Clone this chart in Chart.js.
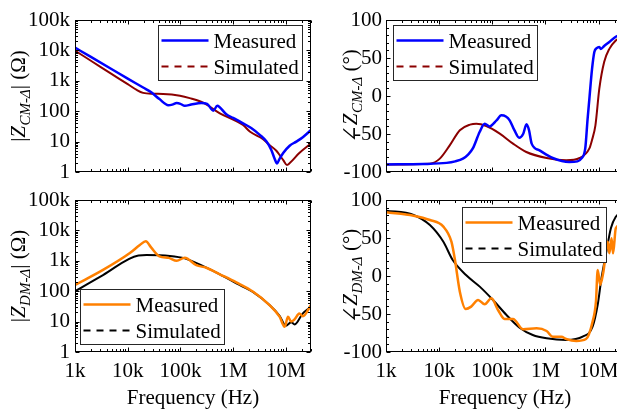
<!DOCTYPE html>
<html><head><meta charset="utf-8">
<script src="https://cdn.jsdelivr.net/npm/chart.js@4/dist/chart.umd.min.js"></script>
<style>
html,body{margin:0;padding:0;background:#fff;width:617px;height:411px;overflow:hidden;}
canvas.panel{position:absolute;left:0;top:0;}
</style></head><body>
<canvas id="cmMag" class="panel" width="640" height="411"></canvas>
<canvas id="cmPh" class="panel" width="640" height="411"></canvas>
<canvas id="dmMag" class="panel" width="640" height="411"></canvas>
<canvas id="dmPh" class="panel" width="640" height="411"></canvas>
<script>
// ---------- data ----------
const seriesLabels = ['Measured', 'Simulated'];

const cmMagMeasFreq = [1e3,2e3,5e3,1e4,2e4,2.8e4,4e4,5.9e4,7e4,8.5e4,1e5,1.21e5,1.6e5,2.5e5,3.2e5,4.2e5,5e5,5.5e5,7.4e5,1e6,1.54e6,2.2e6,3.2e6,4.3e6,5.3e6,6.1e6,6.8e6,7.5e6,8.9e6,1.18e7,1.58e7,2.1e7,3e7];
const cmMagMeas     = [12300,6100,2400,1180,590,417,250,158,165,186,175,150,165,186,175,104,150,138,79,60,40,28,16.7,10,5.3,2.8,1.9,2.6,4.2,7.3,10,14,24];
const cmMagSimFreq  = [1e3,2e3,5e3,1e4,1.48e4,1.96e4,3e4,4.7e4,9.8e4,1.5e5,2.7e5,5.6e5,1.54e6,2.1e6,3.7e6,5e6,6.6e6,7.7e6,9e6,1.05e7,1.2e7,1.8e7,3e7];
const cmMagSim      = [9800,4570,1660,776,500,400,375,370,324,270,190,85,35,21,12,7.5,5,3.5,2.4,1.7,2.0,4.2,8.7];

const cmPhMeasFreq = [1e3,5e3,1.38e4,2e4,2.8e4,3.5e4,4.3e4,5.8e4,7.2e4,8.8e4,1.2e5,1.48e5,1.8e5,2.12e5,2.6e5,3.2e5,3.8e5,4.4e5,4.9e5,5.5e5,7.7e5,1.37e6,2.8e6,4e6,4.7e6,5.6e6,6.2e6,6.7e6,7.5e6,8.3e6,9.2e6,1.03e7,1.1e7,1.27e7,1.59e7,2.1e7,3e7];
const cmPhMeas     = [-90,-89.5,-88,-86,-82.5,-77,-69,-47,-36.5,-40,-32,-25.4,-27,-32,-45,-55,-50,-37.3,-45,-62.7,-71.5,-81.6,-86.9,-86,-82.4,-69,-30,-3.4,35,57.9,63,64.5,62,65.8,71,78,82];
const cmPhSimFreq  = [1e3,6.7e3,1.03e4,1.58e4,2.45e4,3.8e4,5e4,7.7e4,1.38e5,2.45e5,4.36e5,1.05e6,2.45e6,4.4e6,6.7e6,7.5e6,8.7e6,1.03e7,1.27e7,1.59e7,2.1e7,3e7];
const cmPhSim      = [-90,-89,-82.4,-65,-45,-37.7,-36.4,-39.5,-49.5,-62.7,-73.7,-81.6,-84.6,-81.6,-69,-58,-38.6,9.7,44.7,62,73,80];

const dmMagMeasFreq = [1e3,3.4e3,1.1e4,1.7e4,2.2e4,2.8e4,4e4,6e4,8.5e4,1.21e5,2e5,3.1e5,5.6e5,1.15e6,2.4e6,4.9e6,7.6e6,9.5e6,1.1e7,1.26e7,1.47e7,1.8e7,2.1e7,3e7];
const dmMagMeas     = [160,500,1800,3300,4400,2700,1400,1250,1000,1260,720,590,360,195,96,35,14.5,6.8,14.5,10,12,18.6,15,35];
const dmMagSimFreq  = [1e3,3.4e3,1.6e4,2.27e4,6.3e4,1.21e5,2.7e5,5.6e5,1.15e6,2.4e6,4.9e6,7.6e6,1e7,1.26e7,1.47e7,2.1e7,3e7];
const dmMagSim      = [100,340,1500,1550,1450,1200,670,360,180,93,35,15.5,7.3,9.6,8.1,18.6,31];

const dmPhMeasFreq = [1e3,3.3e3,6.7e3,1.2e4,1.7e4,1.96e4,2.45e4,3.16e4,4e4,5.4e4,7.2e4,9.6e4,1.28e5,1.7e5,2.45e5,3.8e5,6.8e5,1.05e6,1.37e6,2e6,2.45e6,3.8e6,5.8e6,7.7e6,8.9e6,9.6e6,1.07e7,1.23e7,1.49e7,1.59e7,1.75e7,1.87e7,2.1e7,3e7];
const dmPhMeas     = [83.8,79.4,73.7,64.9,45.2,23.3,-20.6,-43.4,-40.3,-31.6,-37.3,-29.4,-44.7,-56.6,-56.6,-70.2,-68.9,-72.4,-79.9,-79.9,-82.9,-85.5,-82.9,-60,-33.8,7.9,-11.8,5.7,45.2,29.8,49.6,29.8,62.7,70];
const dmPhSimFreq  = [1e3,3.3e3,6.7e3,1.2e4,1.8e4,3.2e4,5.8e4,1.03e5,1.83e5,3.26e5,5.77e5,1.05e6,2.45e6,5e6,7.7e6,9.6e6,1.13e7,1.38e7,1.7e7,2.1e7,3e7];
const dmPhSim      = [86,80.3,67,45,21,1.3,-14,-31.6,-51,-68,-77.6,-82,-84.2,-79.9,-66.7,-38,-3,29.8,62.7,78,85];

// ---------- tick labels ----------
const freqTickValues  = [1e3,1e4,1e5,1e6,1e7];
const freqTickLabels  = ['1k','10k','100k','1M','10M'];
const magTickValues   = [1,10,100,1e3,1e4,1e5];
const magTickLabels   = ['1','10','100','1k','10k','100k'];
const phaseTickValues = [-100,-50,0,50,100];
const phaseTickLabels = ['-100','-50','0','50','100'];
const xTitle = 'Frequency (Hz)';

// ---------- rendering helpers ----------
const FAM = '"Liberation Serif","Times New Roman","DejaVu Serif",serif';
const CW = 640, CH = 411;

const pts = (f, v) => f.map((x, i) => ({x: x, y: v[i]}));

const frameTicks = {
  id: 'frameTicks',
  afterDatasetsDraw(chart) {
    const {ctx, chartArea: a, scales: {x, y}} = chart;
    ctx.save();
    ctx.strokeStyle = '#000';
    ctx.lineWidth = 1;
    const L = a.left + 0.5, R = a.right - 0.5, T = a.top + 0.5, B = a.bottom - 0.5;
    ctx.beginPath();
    // x ticks (log, minor 2..9)
    for (let d = 3; d <= 7; d++) {
      for (let k = 1; k <= 9; k++) {
        const v = k * Math.pow(10, d);
        if (v > x.max * 1.0001) break;
        const len = k === 1 ? 4 : 2.5;
        const p = Math.round(x.getPixelForValue(v)) + 0.5;
        ctx.moveTo(p, B); ctx.lineTo(p, B - len);
        ctx.moveTo(p, T); ctx.lineTo(p, T + len);
      }
    }
    // y ticks
    const yv = [];
    if (y.type === 'logarithmic') {
      for (let d = 0; d <= 5; d++) for (let k = 1; k <= 9; k++) {
        const v = k * Math.pow(10, d);
        if (v > y.max * 1.0001) break;
        yv.push([v, k === 1]);
      }
    } else {
      for (let v = -100; v <= 100; v += 10) yv.push([v, v % 50 === 0]);
    }
    for (const [v, major] of yv) {
      const len = major ? 4 : 2.5;
      const p = Math.round(y.getPixelForValue(v)) + 0.5;
      ctx.moveTo(L, p); ctx.lineTo(L + len, p);
      ctx.moveTo(R, p); ctx.lineTo(R - len, p);
    }
    ctx.stroke();
    ctx.strokeRect(L, T, R - L, B - T);
    ctx.restore();
  }
};

const boxLegend = {
  id: 'boxLegend',
  afterDraw(chart, args, o) {
    const {ctx} = chart;
    ctx.save();
    ctx.fillStyle = '#fff';
    ctx.fillRect(o.left, o.top, o.width, o.height);
    ctx.strokeStyle = '#262626';
    ctx.lineWidth = 1;
    ctx.strokeRect(o.left + 0.5, o.top + 0.5, o.width - 1, o.height - 1);
    chart.data.datasets.forEach((ds, i) => {
      const ly = o.top + 15.5 + 26 * i;
      ctx.beginPath();
      ctx.strokeStyle = ds.borderColor;
      ctx.lineWidth = ds.borderWidth;
      ctx.setLineDash(o.dashes[i]);
      ctx.moveTo(o.left + 3.5, ly);
      ctx.lineTo(o.left + 50.5, ly);
      ctx.stroke();
      ctx.setLineDash([]);
      ctx.fillStyle = '#000';
      ctx.font = '21px ' + FAM;
      ctx.textBaseline = 'alphabetic';
      ctx.textAlign = 'left';
      ctx.fillText(ds.label, o.left + 55.5, o.top + 23 + 26 * i);
    });
    ctx.restore();
  }
};

const yTitle = {
  id: 'yTitle',
  afterDraw(chart, args, o) {
    const {ctx, chartArea: a} = chart;
    const cy = (a.top + a.bottom) / 2;
    ctx.save();
    ctx.fillStyle = '#000';
    ctx.textBaseline = 'alphabetic';
    ctx.textAlign = 'left';
    const fontOf = p => (p.i ? 'italic ' : '') + p.s + 'px ' + FAM;
    let total = 0;
    const widths = o.parts.map(p => { ctx.font = fontOf(p); const w = ctx.measureText(p.t).width + (p.gap || 0); total += w; return w; });
    ctx.translate(o.x, cy);
    ctx.rotate(-Math.PI / 2);
    let cx = -total / 2;
    o.parts.forEach((p, i) => {
      ctx.font = fontOf(p);
      ctx.fillText(p.t, cx, p.dy || 0);
      cx += widths[i];
    });
    ctx.restore();
  }
};

function makePanel(id, cfg) {
  const a = cfg.area;
  const showX = cfg.showX;
  const xh = showX ? CH - a.bottom : 10;
  const isMag = cfg.yType === 'logarithmic';
  const yVals = isMag ? magTickValues : phaseTickValues;
  const yLabs = isMag ? magTickLabels : phaseTickLabels;
  return new Chart(document.getElementById(id), {
    type: 'line',
    data: {
      datasets: [
        {label: seriesLabels[0], data: pts(cfg.f1, cfg.v1), borderColor: cfg.c1, borderWidth: 2.5,
         pointRadius: 0, fill: false, cubicInterpolationMode: 'monotone'},
        {label: seriesLabels[1], data: pts(cfg.f2, cfg.v2), borderColor: cfg.c2, borderWidth: 2,
         pointRadius: 0, fill: false, cubicInterpolationMode: 'monotone'}
      ]
    },
    options: {
      responsive: false, animation: false, devicePixelRatio: 1, events: [],
      layout: {padding: {left: 0, top: a.top, right: CW - a.right, bottom: CH - a.bottom - xh}},
      plugins: {
        legend: {display: false}, tooltip: {enabled: false}, title: {display: false},
        boxLegend: cfg.legend,
        yTitle: {x: cfg.yTitleX, parts: cfg.yTitleParts}
      },
      scales: {
        x: {
          type: 'logarithmic', min: 1e3, max: 3e7, bounds: 'data', position: 'bottom',
          afterBuildTicks: s => { s.ticks = freqTickValues.map(v => ({value: v})); },
          afterFit: s => { s.height = xh; },
          grid: {display: false, drawTicks: false}, border: {display: false},
          ticks: {display: showX, autoSkip: false, maxRotation: 0, minRotation: 0, padding: 7, color: '#000',
                  font: {family: FAM, size: 21}, callback: (v, i) => freqTickLabels[i]},
          title: {display: showX, text: xTitle, color: '#000', font: {family: FAM, size: 21}, padding: {top: 0, bottom: 0}}
        },
        y: {
          type: cfg.yType, min: yVals[0], max: yVals[yVals.length - 1], bounds: 'data', position: 'left',
          afterBuildTicks: s => { s.ticks = yVals.map(v => ({value: v})); },
          afterFit: s => { s.width = a.left; },
          grid: {display: false, drawTicks: false}, border: {display: false},
          ticks: {autoSkip: false, padding: isMag ? 5 : 4, color: '#000', font: {family: FAM, size: 21},
                  callback: (v, i) => yLabs[i]}
        }
      }
    },
    plugins: [frameTicks, boxLegend, yTitle]
  });
}

const blue = '#0000ff', darkRed = '#8b0000', orange = '#ff8000', black = '#000000';
const magParts = sub => [{t: '|', s: 21}, {t: 'Z', s: 21, i: true, gap: 0.5}, {t: sub, s: 15, i: true, dy: 5}, {t: '| (\u03A9)', s: 21}];
const phParts  = sub => [{t: '\u2220', s: 21}, {t: 'Z', s: 21, i: true, gap: 0.5}, {t: sub, s: 15, i: true, dy: 5}, {t: ' (\u00B0)', s: 21}];

makePanel('cmMag', {
  area: {left: 75, top: 20, right: 311, bottom: 172}, showX: false, yType: 'logarithmic',
  f1: cmMagMeasFreq, v1: cmMagMeas, c1: blue, f2: cmMagSimFreq, v2: cmMagSim, c2: darkRed,
  legend: {left: 158, top: 25, width: 145, height: 56, dashes: [[], [7, 6]]},
  yTitleX: 25, yTitleParts: magParts('CM-\u0394')
});
makePanel('cmPh', {
  area: {left: 386, top: 20, right: 624, bottom: 172}, showX: false, yType: 'linear',
  f1: cmPhMeasFreq, v1: cmPhMeas, c1: blue, f2: cmPhSimFreq, v2: cmPhSim, c2: darkRed,
  legend: {left: 393, top: 25, width: 145, height: 56, dashes: [[], [7, 6]]},
  yTitleX: 357, yTitleParts: phParts('CM-\u0394')
});
makePanel('dmMag', {
  area: {left: 75, top: 200, right: 311, bottom: 352}, showX: true, yType: 'logarithmic',
  f1: dmMagMeasFreq, v1: dmMagMeas, c1: orange, f2: dmMagSimFreq, v2: dmMagSim, c2: black,
  legend: {left: 80, top: 289, width: 145, height: 56, dashes: [[], [7, 6]]},
  yTitleX: 25, yTitleParts: magParts('DM-\u0394')
});
makePanel('dmPh', {
  area: {left: 386, top: 200, right: 624, bottom: 352}, showX: true, yType: 'linear',
  f1: dmPhMeasFreq, v1: dmPhMeas, c1: orange, f2: dmPhSimFreq, v2: dmPhSim, c2: black,
  legend: {left: 462, top: 207, width: 145, height: 56, dashes: [[], [7, 6]]},
  yTitleX: 357, yTitleParts: phParts('DM-\u0394')
});
</script>
</body></html>
